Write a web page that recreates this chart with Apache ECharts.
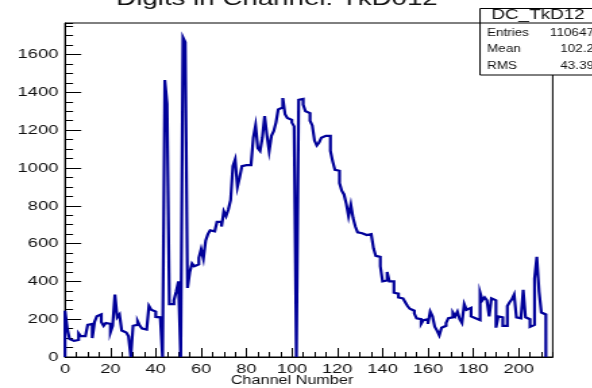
<!DOCTYPE html>
<html>
<head>
<meta charset="utf-8">
<script src="https://cdn.jsdelivr.net/npm/echarts@6/dist/echarts.min.js"></script>
<style>
  html, body { margin: 0; padding: 0; background: #fff; overflow: hidden; }
  /* the reference is a ROOT canvas stretched sideways: draw narrow, then stretch */
  #chart { width: 438.5px; height: 388px; transform: scaleX(1.35); transform-origin: 0 0; }
</style>
</head>
<body>
<div id="chart"></div>
<script>
const STRETCH = 1.35;
const sx = v => v / STRETCH; // final page x -> x inside the stretched chart

const titleText = 'Digits in Channel: TkD012';
const axisTitle = 'Channel Number';
const histName = 'DC_TkD12';
const statLabels = ['Entries', 'Mean', 'RMS'];
const statValues = ['110647', '102.2', '43.39'];

const xMin = 0, xMax = 215, xMajor = 20, xMinor = 5;
const yMin = 0, yMax = 1767, yMajor = 200, yMinor = 50;

// entries per channel, channel 0 .. 211
const counts = [
  245, 150, 95, 85, 85, 90, 125, 110, 110, 120,
  170, 175, 100, 185, 215, 225, 185, 165, 180, 175,
  130, 165, 330, 210, 225, 140, 130, 125, 110, 0,
  165, 170, 190, 165, 150, 145, 150, 270, 250, 240,
  212, 210, 205, 0, 1465, 1340, 280, 280, 300, 345,
  400, 0, 1690, 1665, 365, 450, 495, 480, 490, 525,
  570, 520, 615, 650, 670, 665, 675, 715, 715, 690,
  770, 745, 780, 830, 1010, 1045, 900, 950, 1010, 1015,
  1015, 1015, 1010, 1160, 1225, 1105, 1090, 1160, 1275, 1175,
  1090, 1170, 1195, 1240, 1310, 1320, 1370, 1285, 1265, 1255,
  1240, 1220, 0, 1360, 1365, 1335, 1300, 1290, 1250, 1225,
  1145, 1120, 1135, 1160, 1170, 1165, 1170, 1090, 1035, 990,
  985, 920, 880, 860, 810, 745, 805, 735, 690, 660,
  655, 650, 645, 650, 650, 660, 575, 535, 530, 480,
  400, 405, 450, 400, 400, 340, 335, 315, 310, 305,
  290, 270, 255, 245, 230, 205, 200, 175, 195, 200,
  175, 240, 215, 160, 140, 115, 155, 165, 180, 205,
  210, 235, 215, 240, 200, 180, 280, 250, 260, 215,
  205, 195, 195, 340, 300, 315, 300, 215, 310, 300,
  155, 215, 210, 165, 165, 270, 290, 305, 330, 210,
  205, 205, 355, 210, 200, 160, 170, 415, 530, 345,
  235, 225
];

// histogram outline: flat top over each channel [i, i+1], closed at 0 on both ends
const outline = [[0, 0]];
counts.forEach((v, i) => { outline.push([i, v], [i + 1, v]); });
outline.push([counts.length, 0]);

const font = 'Liberation Sans, Arial, Helvetica, sans-serif';
const textColor = '#111';

const chart = echarts.init(document.getElementById('chart'));

const statRows = statLabels.flatMap((label, i) => [
  { type: 'text', x: sx(487), y: 33 + i * 16.5, style: { text: label, font: '10px ' + font, fill: textColor, align: 'left', verticalAlign: 'middle' } },
  { type: 'text', x: sx(594), y: 33 + i * 16.5, style: { text: statValues[i], font: '10px ' + font, fill: textColor, align: 'right', verticalAlign: 'middle' } }
]);

const plain = v => String(v);

chart.setOption({
  animation: false,
  backgroundColor: '#fff',
  grid: {
    left: sx(65), right: 438.5 - sx(552), top: 23, bottom: 31,
    show: true, borderColor: '#000', borderWidth: 1, backgroundColor: 'transparent'
  },
  xAxis: [
    {
      type: 'value', min: xMin, max: xMax, interval: xMajor, position: 'bottom',
      axisLine: { show: true, lineStyle: { color: '#000', width: 1 } },
      axisTick: { inside: true, length: 9, lineStyle: { color: '#000' } },
      axisLabel: { color: textColor, fontSize: 13.5, fontFamily: font, margin: 5, showMaxLabel: false, formatter: plain },
      splitLine: { show: false }
    },
    {
      type: 'value', min: xMin, max: xMax, interval: xMinor, position: 'bottom',
      axisLine: { show: false },
      axisTick: { inside: true, length: 5, lineStyle: { color: '#000' } },
      axisLabel: { show: false },
      splitLine: { show: false }
    }
  ],
  yAxis: [
    {
      type: 'value', min: yMin, max: yMax, interval: yMajor, position: 'left',
      axisLine: { show: true, lineStyle: { color: '#000', width: 1 } },
      axisTick: { inside: true, length: 12, lineStyle: { color: '#000' } },
      axisLabel: { color: textColor, fontSize: 13.5, fontFamily: font, margin: 5, showMaxLabel: false, formatter: plain },
      splitLine: { show: false }
    },
    {
      type: 'value', min: yMin, max: yMax, interval: yMinor, position: 'left',
      axisLine: { show: false },
      axisTick: { inside: true, length: 6, lineStyle: { color: '#000' } },
      axisLabel: { show: false },
      splitLine: { show: false }
    }
  ],
  series: [{
    type: 'line',
    xAxisIndex: 0,
    yAxisIndex: 0,
    data: outline,
    symbol: 'none',
    lineStyle: { color: '#000099', width: 2.2, join: 'miter' },
    z: 5
  }],
  graphic: [
    { type: 'text', x: sx(277), y: -1, z: 50, style: { text: titleText, font: '20.5px ' + font, fill: textColor, align: 'center', verticalAlign: 'middle' } },
    { type: 'text', x: sx(292), y: 381, z: 50, style: { text: axisTitle, font: '12px ' + font, fill: textColor, align: 'center', verticalAlign: 'middle' } },
    {
      type: 'group', z: 100,
      children: [
        { type: 'rect', shape: { x: sx(480), y: 8.5, width: 120, height: 66.5 }, style: { fill: '#fff', stroke: '#000', lineWidth: 1 } },
        { type: 'line', shape: { x1: sx(480), y1: 23, x2: sx(600), y2: 23 }, style: { stroke: '#000', lineWidth: 1 } },
        { type: 'text', x: sx(538), y: 15.5, style: { text: histName, font: '14px ' + font, fill: textColor, align: 'center', verticalAlign: 'middle' } }
      ].concat(statRows)
    }
  ]
});
</script>
</body>
</html>
